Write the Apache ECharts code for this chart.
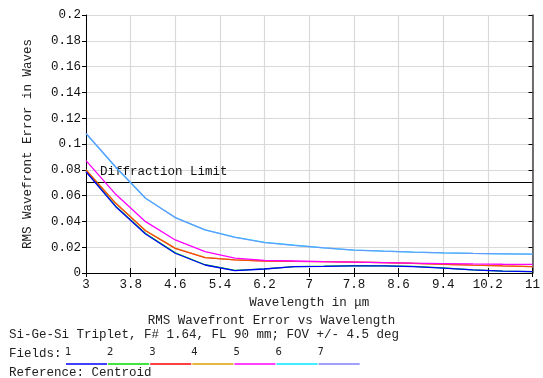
<!DOCTYPE html>
<html>
<head>
<meta charset="utf-8">
<script src="https://cdn.jsdelivr.net/npm/echarts@6/dist/echarts.min.js"></script>
<style>
html,body{margin:0;padding:0;background:#fff;}
#chart{width:543px;height:378px;}
</style>
</head>
<body>
<div id="chart"></div>
<script>
// Wavelengths (µm) at which the RMS wavefront error was sampled
var wavelengths = [3, 3.533, 4.067, 4.6, 5.133, 5.667, 6.2, 6.733, 7.267, 7.8, 8.333, 8.867, 9.4, 9.933, 10.467, 11];
// RMS wavefront error (waves) per field
var field1 = [0.0785, 0.0514, 0.0302, 0.0153, 0.0062, 0.0018, 0.0031, 0.0049, 0.0052, 0.0056, 0.0055, 0.0050, 0.0038, 0.0024, 0.0014, 0.0010];
var field2 = [0.0790, 0.0518, 0.0306, 0.0156, 0.0064, 0.0020, 0.0032, 0.0050, 0.0053, 0.0057, 0.0056, 0.0051, 0.0039, 0.0025, 0.0015, 0.0011];
var field3 = [0.0798, 0.0540, 0.0328, 0.0191, 0.0119, 0.0101, 0.0093, 0.0090, 0.0088, 0.0085, 0.0080, 0.0075, 0.0068, 0.0061, 0.0055, 0.0050];
var field4 = [0.0800, 0.0542, 0.0330, 0.0193, 0.0121, 0.0102, 0.0094, 0.0090, 0.0088, 0.0085, 0.0080, 0.0075, 0.0068, 0.0061, 0.0055, 0.0050];
var field5 = [0.0871, 0.0610, 0.0398, 0.0256, 0.0165, 0.0116, 0.0098, 0.0093, 0.0088, 0.0084, 0.0080, 0.0076, 0.0073, 0.0070, 0.0068, 0.0067];
var field6 = [0.1080, 0.0820, 0.0580, 0.0430, 0.0335, 0.0278, 0.0237, 0.0215, 0.0195, 0.0178, 0.0169, 0.0162, 0.0156, 0.0152, 0.0149, 0.0146];
var field7 = [0.1083, 0.0822, 0.0579, 0.0429, 0.0334, 0.0277, 0.0236, 0.0214, 0.0195, 0.0178, 0.0169, 0.0162, 0.0156, 0.0152, 0.0149, 0.0146];
var diffractionLimit = 0.0716;
var fieldNames = ['1', '2', '3', '4', '5', '6', '7'];
var fieldColors = ['#0000ff', '#00dd00', '#ff0000', '#dda000', '#ff00ff', '#00e8ff', '#8080ff'];
var fieldData = [field1, field2, field3, field4, field5, field6, field7];
var xTickLabels = ['3', '3.8', '4.6', '5.4', '6.2', '7', '7.8', '8.6', '9.4', '10.2', '11'];

var MONO = '"Liberation Mono","Courier New",monospace';
var chart = echarts.init(document.getElementById('chart'));

function pairs(arr) { return wavelengths.map(function (w, i) { return [w, arr[i]]; }); }

// draw order: hidden fields first, visible on top
var drawOrder = [1, 2, 3, 0, 4, 5, 6];
var opac = {0: 1, 1: 1, 2: 1, 3: 0.55, 4: 1, 5: 1, 6: 0.75};
var series = drawOrder.map(function (k) {
  return {
    name: fieldNames[k], type: 'line', data: pairs(fieldData[k]),
    showSymbol: false, symbol: 'none', silent: true, z: 3 + drawOrder.indexOf(k),
    lineStyle: { color: fieldColors[k], width: 1.3, opacity: opac[k] },
    itemStyle: { color: fieldColors[k] }
  };
});
series.push({
  type: 'line', data: [], silent: true,
  markLine: {
    silent: true, symbol: 'none', animation: false,
    lineStyle: { color: '#000', width: 1, type: 'solid' },
    label: {
      show: true, position: 'insideStartTop', formatter: 'Diffraction Limit',
      fontFamily: MONO, fontSize: 12.5, color: '#111', distance: [14, 5]
    },
    data: [{ yAxis: diffractionLimit }]
  }
});

var legendGraphics = [];
var legendX0 = 66, legendStep = 42.1;
fieldNames.forEach(function (n, i) {
  legendGraphics.push({ type: 'text', left: legendX0 + i * legendStep - 1, top: 347,
    style: { text: n, font: '10px "DejaVu Sans",sans-serif', fill: '#222' } });
  legendGraphics.push({ type: 'line', shape: { x1: legendX0 + i * legendStep, y1: 364, x2: legendX0 + (i + 1) * legendStep - 1, y2: 364 },
    style: { stroke: fieldColors[i], lineWidth: 1.5 } });
});

var option = {
  animation: false,
  backgroundColor: '#fff',
  textStyle: { fontFamily: MONO },
  grid: { left: 86, right: 10, top: 15, bottom: 105, containLabel: false },
  xAxis: [{
    type: 'value', min: 3, max: 11, interval: 0.8,
    name: 'Wavelength in μm', nameLocation: 'middle', nameGap: 22,
    nameTextStyle: { fontFamily: MONO, fontSize: 12.5, color: '#222' },
    axisLine: { show: true, lineStyle: { color: '#000', width: 1 } },
    axisTick: { show: true, inside: true, length: 5, lineStyle: { color: '#000' } },
    axisLabel: { fontFamily: MONO, fontSize: 12.5, color: '#111', margin: 5,
      formatter: function (v) { var i = Math.round((v - 3) / 0.8); return xTickLabels[i] !== undefined ? xTickLabels[i] : ''; } },
    splitLine: { show: true, lineStyle: { color: '#d9d9d9', width: 1.2 } }
  }, {
    type: 'value', position: 'top', min: 3, max: 11, interval: 0.8,
    axisLine: { show: true, lineStyle: { color: '#000', width: 1 } },
    axisTick: { show: true, inside: true, length: 4, lineStyle: { color: '#000' } },
    axisLabel: { show: false }, splitLine: { show: false }
  }],
  yAxis: [{
    type: 'value', min: 0, max: 0.2, interval: 0.02,
    name: 'RMS Wavefront Error in Waves', nameLocation: 'middle', nameGap: 52,
    nameTextStyle: { fontFamily: MONO, fontSize: 12.5, color: '#222' },
    axisLine: { show: true, lineStyle: { color: '#000', width: 1 } },
    axisTick: { show: true, inside: false, length: 4, lineStyle: { color: '#000' } },
    axisLabel: { fontFamily: MONO, fontSize: 12.5, color: '#111', margin: 5,
      formatter: function (v) { return String(+v.toFixed(2)); } },
    splitLine: { show: true, lineStyle: { color: '#d9d9d9', width: 1.2 } }
  }, {
    type: 'value', position: 'right', min: 0, max: 0.2, interval: 0.02,
    axisLine: { show: true, lineStyle: { color: '#444', width: 1.5 } },
    axisTick: { show: true, inside: true, length: 4, lineStyle: { color: '#000' } },
    axisLabel: { show: false }, splitLine: { show: false }
  }],
  series: series,
  graphic: [
    { type: 'text', left: 'center', top: 314, z: 10,
      style: { text: 'RMS Wavefront Error vs Wavelength', font: '12.5px ' + MONO, fill: '#222' } },
    { type: 'text', left: 9, top: 328,
      style: { text: 'Si-Ge-Si Triplet, F# 1.64, FL 90 mm; FOV +/- 4.5 deg', font: '12.5px ' + MONO, fill: '#222' } },
    { type: 'text', left: 9, top: 347,
      style: { text: 'Fields:', font: '12.5px ' + MONO, fill: '#222' } },
    { type: 'text', left: 9, top: 366,
      style: { text: 'Reference: Centroid', font: '12.5px ' + MONO, fill: '#222' } }
  ].concat(legendGraphics)
};
chart.setOption(option);
</script>
</body>
</html>
